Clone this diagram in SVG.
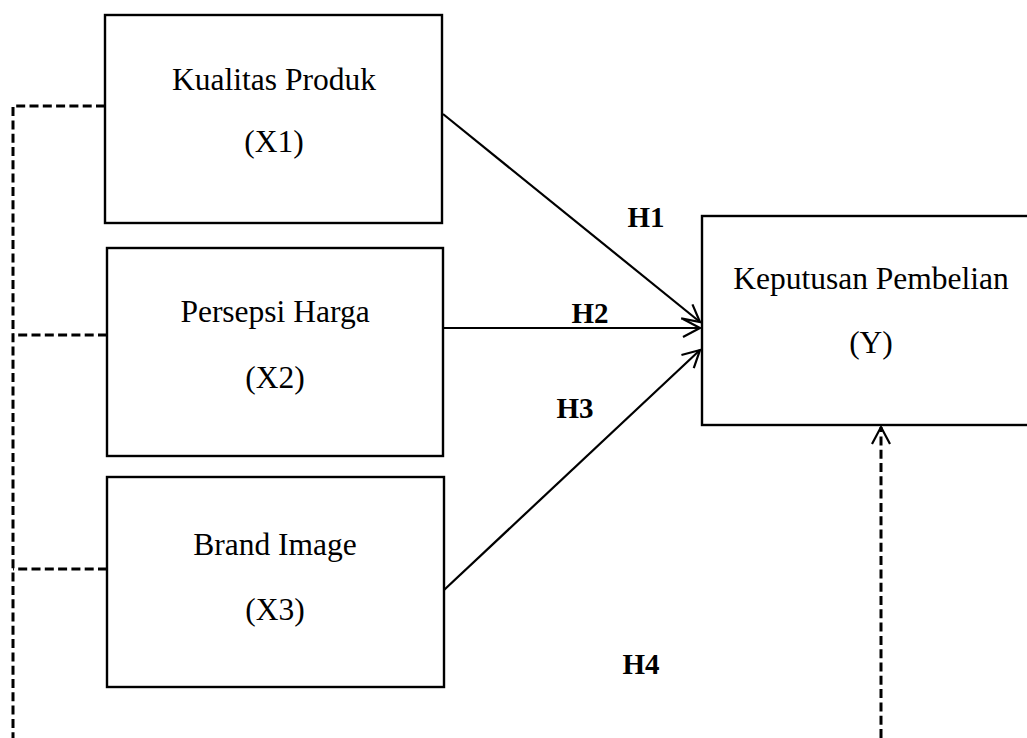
<svg xmlns="http://www.w3.org/2000/svg" width="1027" height="738" viewBox="0 0 1027 738">
  <defs>
    <marker id="open-arrow" markerUnits="userSpaceOnUse" markerWidth="24" markerHeight="24" viewBox="-20 -12 24 24" refX="0" refY="0" orient="auto" overflow="visible">
      <path d="M-17,-9 L0,0 L-17,9" fill="none" stroke="#000" stroke-width="2.2"/>
    </marker>
  </defs>
  <style>
    .box { fill: #fff; stroke: #000; stroke-width: 2.4; }
    .lbl { font-family: "Liberation Serif", "Times New Roman", serif; font-size: 31.5px; fill: #000; text-anchor: middle; }
    .hyp { font-family: "Liberation Serif", "Times New Roman", serif; font-size: 29px; font-weight: bold; fill: #000; text-anchor: middle; }
    .link { fill: none; stroke: #000; stroke-width: 2.2; }
    .dash { fill: none; stroke: #000; stroke-width: 3; stroke-dasharray: 9 4.3; }
  </style>
  <rect width="1027" height="738" fill="#fff"/>

  <g id="connectors">
    <!-- correlations among the independent variables -->
    <path class="dash" d="M105,106 H13 V738"/>
    <path class="dash" d="M107,335 H13"/>
    <path class="dash" d="M107,569 H13"/>
    <!-- joint effect H4 -->
    <path class="dash" d="M881,738 V427" marker-end="url(#open-arrow)"/>
    <!-- partial effects -->
    <path class="link" d="M443,114 L700,322" marker-end="url(#open-arrow)"/>
    <path class="link" d="M443,328 L700,328" marker-end="url(#open-arrow)"/>
    <path class="link" d="M444,590 L700,350" marker-end="url(#open-arrow)"/>
  </g>

  <g id="x1">
    <rect class="box" x="105" y="15" width="337" height="208"/>
    <text class="lbl" x="274" y="90">Kualitas Produk</text>
    <text class="lbl" x="274" y="152">(X1)</text>
  </g>

  <g id="x2">
    <rect class="box" x="107" y="248" width="336" height="208"/>
    <text class="lbl" x="275" y="322">Persepsi Harga</text>
    <text class="lbl" x="275" y="388">(X2)</text>
  </g>

  <g id="x3">
    <rect class="box" x="107" y="477" width="337" height="210"/>
    <text class="lbl" x="275" y="555">Brand Image</text>
    <text class="lbl" x="275" y="620">(X3)</text>
  </g>

  <g id="y">
    <rect class="box" x="702" y="216" width="340" height="209"/>
    <text class="lbl" x="871" y="289">Keputusan Pembelian</text>
    <text class="lbl" x="871" y="353">(Y)</text>
  </g>

  <g id="hypotheses">
    <text class="hyp" x="646" y="227">H1</text>
    <text class="hyp" x="590" y="323">H2</text>
    <text class="hyp" x="575" y="418">H3</text>
    <text class="hyp" x="641" y="674">H4</text>
  </g>
</svg>
